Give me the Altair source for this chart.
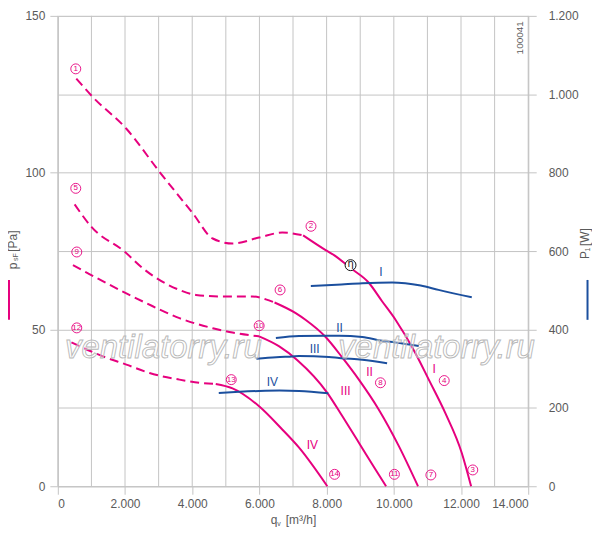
import altair as alt
import pandas as pd

PINK = "#e6007e"
BLUE = "#1b4f9e"
GRID = "#c4c4c4"
LABEL = "#5a5a5a"
FONT = "Liberation Sans"

# ---------------- pressure curves p_sF [Pa] vs q_v [m3/h] ----------------
c1_dash_q = [550, 1050, 2040, 3030, 4020, 4610, 5200, 5990, 6680, 7300]
c1_dash_p = [130.0, 124.0, 114.0, 100.2, 87.0, 79.0, 77.4, 79.3, 80.9, 80.0]
c1_solid_q = [7300, 7970, 8220, 8720, 9255, 9650, 10050, 10640, 11040, 11530, 12020, 12300]
c1_solid_p = [80.0, 75.3, 73.7, 69.5, 64.9, 59.0, 53.1, 42.5, 34.0, 23.4, 10.7, 0.0]

c5_dash_q = [500, 1000, 1990, 2530, 3620, 4110, 5000, 5790, 6190, 6450]
c5_dash_p = [89.9, 82.7, 74.8, 69.5, 62.6, 61.0, 60.5, 60.5, 59.6, 58.6]
c5_solid_q = [6450, 7080, 7380, 7970, 8470, 8960, 9550, 10150, 10720]
c5_solid_p = [58.6, 55.2, 53.0, 47.6, 41.0, 34.0, 24.5, 12.8, 0.0]

c9_dash_q = [450, 900, 2040, 2630, 3620, 4610, 5200, 5990]
c9_dash_p = [70.5, 67.9, 61.5, 58.4, 53.6, 50.4, 49.0, 47.8]
c9_solid_q = [5990, 6590, 7130, 8020, 8470, 8960, 9450, 9770]
c9_solid_p = [47.8, 44.6, 40.2, 29.8, 22.3, 13.9, 5.4, 0.0]

c12_dash_q = [405, 1345, 2040, 2730, 3620, 4210, 4700]
c12_dash_p = [45.9, 41.4, 38.8, 36.1, 34.0, 33.0, 32.6]
c12_solid_q = [4700, 5200, 5990, 6680, 7180, 8020]
c12_solid_p = [32.6, 31.2, 25.5, 18.1, 12.3, 0.0]

# ---------------- power curves P1 [W] vs q_v ----------------
pI_q = [7530, 8300, 9060, 9950, 10340, 10800, 11330, 12320]
pI_w = [511, 514, 518, 520, 518, 512, 501, 482]
pII_q = [6490, 7180, 7970, 8370, 9060, 9650, 10050, 10740]
pII_w = [378, 383, 384, 384, 381, 371, 367, 358]
pIII_q = [5910, 6500, 6980, 7180, 8070, 8370, 9060, 9800]
pIII_w = [325, 329, 331, 332, 330, 327, 323, 314]
pIV_q = [4790, 5400, 5990, 6600, 7180, 8050]
pIV_w = [238, 241, 243, 244, 243, 237]

# ---------------- labels ----------------
num_text = ["1", "5", "9", "12", "2", "6", "10", "13", "8", "4", "3", "7", "11", "14"]
num_q = [534, 534, 564, 564, 7535, 6615, 5992, 5162, 9602, 11500, 12350, 11103, 10017, 8237]
num_p = [133.1, 95.0, 74.7, 50.5, 82.9, 62.6, 51.2, 34.0, 33.0, 33.7, 5.2, 3.6, 3.8, 3.8]

pink_roman = ["I", "II", "III", "IV"]
pink_roman_q = [11204, 9276, 8563, 7574]
pink_roman_p = [37.4, 36.3, 30.3, 13.3]

blue_roman = ["I", "II", "III", "IV"]
blue_roman_q = [9612, 8385, 7645, 6387]
blue_roman_p = [68.4, 50.4, 43.8, 33.1]

eta_q = [8712]
eta_p = [70.5]

x_ticks = list(range(0, 14001, 1000))
y_ticks = [0, 25, 50, 75, 100, 125, 150]
w_ticks = list(range(0, 1201, 200))


def frame(q, v, name):
    return pd.DataFrame({"q": q, "v": v, "curve": name})


dash_df = pd.concat([
    frame(c1_dash_q, c1_dash_p, "1"), frame(c5_dash_q, c5_dash_p, "5"),
    frame(c9_dash_q, c9_dash_p, "9"), frame(c12_dash_q, c12_dash_p, "12")])
solid_df = pd.concat([
    frame(c1_solid_q, c1_solid_p, "1"), frame(c5_solid_q, c5_solid_p, "5"),
    frame(c9_solid_q, c9_solid_p, "9"), frame(c12_solid_q, c12_solid_p, "12")])
power_df = pd.concat([
    frame(pI_q, pI_w, "I"), frame(pII_q, pII_w, "II"),
    frame(pIII_q, pIII_w, "III"), frame(pIV_q, pIV_w, "IV")])
num_df = pd.DataFrame({"q": num_q, "v": num_p, "t": num_text})
pr_df = pd.DataFrame({"q": pink_roman_q, "v": pink_roman_p, "t": pink_roman})
br_df = pd.DataFrame({"q": blue_roman_q, "v": blue_roman_p, "t": blue_roman})
eta_df = pd.DataFrame({"q": eta_q, "v": eta_p, "t": ["η"]})
xgrid_df = pd.DataFrame({"q": x_ticks})

dot_fmt = "replace(format(datum.value, ','), ',', '.')"

X = alt.X("q:Q", scale=alt.Scale(domain=[0, 14000], nice=False, zero=False),
          axis=alt.Axis(values=x_ticks, title=None, grid=False,
                        domainColor=GRID, tickColor=GRID, tickSize=8,
                        labelExpr="datum.value % 2000 == 0 ? " + dot_fmt + " : ''",
                        tickOpacity={"condition": {"test": "datum.value % 2000 == 0", "value": 1}, "value": 0},
                        labelColor=LABEL, labelFont=FONT, labelFontSize=12, labelPadding=4))

Y = alt.Y("v:Q", scale=alt.Scale(domain=[0, 150], nice=False, zero=False),
          axis=alt.Axis(values=y_ticks, title=None, grid=True, gridColor=GRID, gridWidth=1,
                        domainColor=GRID, tickColor=GRID, tickSize=8,
                        labelExpr="datum.value % 50 == 0 ? datum.label : ''",
                        tickOpacity={"condition": {"test": "datum.value % 50 == 0", "value": 1}, "value": 0},
                        labelColor=LABEL, labelFont=FONT, labelFontSize=12, labelPadding=5))

xgrid_layer = alt.Chart(xgrid_df).mark_rule(color=GRID, strokeWidth=1).encode(x=X)

dash_layer = alt.Chart(dash_df).mark_line(
    color=PINK, strokeWidth=2, strokeDash=[9, 5], interpolate="monotone"
).encode(x=X, y=Y, detail="curve:N")

solid_layer = alt.Chart(solid_df).mark_line(
    color=PINK, strokeWidth=2, interpolate="monotone"
).encode(x=X, y=Y, detail="curve:N")

circ_layer = alt.Chart(num_df).mark_point(
    shape="circle", filled=False, color=PINK, strokeWidth=0.9, size=100, opacity=1
).encode(x=X, y=Y)
num_layer = alt.Chart(num_df).mark_text(
    color=PINK, fontSize=8, font=FONT, baseline="middle", align="center"
).encode(x=X, y=Y, text="t:N")

pr_layer = alt.Chart(pr_df).mark_text(
    color=PINK, fontSize=12, font=FONT, baseline="middle", align="center"
).encode(x=X, y=Y, text="t:N")
br_layer = alt.Chart(br_df).mark_text(
    color=BLUE, fontSize=12, font=FONT, baseline="middle", align="center"
).encode(x=X, y=Y, text="t:N")

eta_circ = alt.Chart(eta_df).mark_point(
    shape="circle", filled=True, fill="white", stroke="#111111", strokeWidth=1, size=120, opacity=1
).encode(x=X, y=Y)
eta_txt = alt.Chart(eta_df).mark_text(
    color="#111111", fontSize=10, font="DejaVu Sans", baseline="middle", align="center", dy=-1
).encode(x=X, y=Y, text="t:N")

power_layer = alt.Chart(power_df).mark_line(
    color=BLUE, strokeWidth=2, interpolate="monotone"
).encode(
    x=X,
    y=alt.Y("v:Q", scale=alt.Scale(domain=[0, 1200], nice=False, zero=False),
            axis=alt.Axis(orient="right", values=w_ticks, title=None, grid=False,
                          domainColor=GRID, tickColor=GRID, tickSize=8,
                          labelExpr=dot_fmt, labelColor=LABEL, labelFont=FONT,
                          labelFontSize=12, labelPadding=12)),
    detail="curve:N")

one = pd.DataFrame({"a": [0]})


def txt(s, x, y, size=12, angle=0, color=LABEL, font=FONT, **kw):
    return alt.Chart(one).mark_text(
        text=s, fontSize=size, angle=angle, color=color, font=font,
        baseline="middle", align="center", **kw
    ).encode(x=alt.value(x), y=alt.value(y))


def vline(x, y1, y2, color):
    return alt.Chart(one).mark_rule(color=color, strokeWidth=2).encode(
        x=alt.value(x), y=alt.value(y1), y2=alt.value(y2))


annots = [
    # left axis title p_sF [Pa]
    txt("p", -45, 251, 12, 270),
    txt("sF", -42, 242, 7, 270),
    txt("[Pa]", -45, 226, 12, 270),
    vline(-49, 265, 305, PINK),
    # right axis title P_1 [W]
    txt("P", 529, 240, 12, 270),
    txt("1", 532, 234.5, 7, 270),
    txt("[W]", 529, 222, 12, 270),
    vline(531.5, 265, 305, BLUE),
    # x axis title q_v [m3/h]
    txt("q", 217, 506, 12),
    txt("v", 222, 510, 7),
    txt("[m³/h]", 244, 506, 12),
    # id
    txt("100041", 464, 22, 10, 270),
]

watermark = [
    txt("ventilatorry.ru", 106, 333, 33, 0, "#ffffff", FONT, fontStyle="italic",
        stroke="#b8b8b8", strokeWidth=0.9, fillOpacity=0.35),
    txt("ventilatorry.ru", 380, 333, 33, 0, "#ffffff", FONT, fontStyle="italic",
        stroke="#b8b8b8", strokeWidth=0.9, fillOpacity=0.35),
]

pa_layer = alt.layer(
    xgrid_layer, dash_layer, solid_layer, circ_layer, num_layer, pr_layer, br_layer,
    eta_circ, eta_txt, *annots
)

chart = alt.layer(pa_layer, power_layer, *watermark).resolve_scale(
    y="independent"
).properties(
    width=472, height=472,
    padding={"left": 50, "top": 7, "right": 64, "bottom": 40},
    autosize=alt.AutoSizeParams(type="none"),
).configure_view(stroke=None).configure(background="white")

chart.save("out.html", embed_options={"renderer": "svg", "actions": False})
